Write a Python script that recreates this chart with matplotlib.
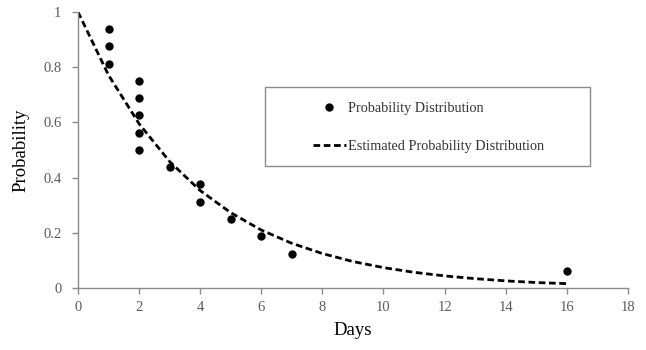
import matplotlib
matplotlib.use("Agg")
import matplotlib.pyplot as plt
from matplotlib.patches import Rectangle

plt.rcParams['font.family'] = ['Liberation Serif', 'DejaVu Serif']

# Observed probabilities by day
obs_days = [1, 1, 1, 2, 2, 2, 2, 2, 3, 4, 4, 5, 6, 7, 16]
obs_prob = [0.9375, 0.875, 0.8125, 0.75, 0.6875, 0.625, 0.5625, 0.5,
            0.4375, 0.375, 0.3125, 0.25, 0.1875, 0.125, 0.0625]

# Estimated distribution, read at each day
est_days = list(range(0, 17))
est_prob = [1.0, 0.771, 0.595, 0.458, 0.353, 0.273, 0.210, 0.162, 0.125,
            0.096, 0.074, 0.057, 0.044, 0.034, 0.026, 0.020, 0.016]

x_ticks = [0, 2, 4, 6, 8, 10, 12, 14, 16, 18]
y_ticks = [0, 0.2, 0.4, 0.6, 0.8, 1]
y_tick_labels = ["0", "0.2", "0.4", "0.6", "0.8", "1"]

fig = plt.figure(figsize=(6.46, 3.5), dpi=100)
ax = fig.add_axes([0.1207, 0.177, 0.8513, 0.789])

ax.plot(obs_days, obs_prob, 'o', color='black', markersize=5,
        label='Probability Distribution', zorder=3)
ax.plot(est_days, est_prob, '--', color='black', linewidth=2.0,
        dashes=(2.4, 1.3), label='Estimated Probability Distribution', zorder=2)

ax.set_xlim(0, 18)
ax.set_ylim(0, 1)
ax.set_xticks(x_ticks)
ax.set_yticks(y_ticks)
ax.set_yticklabels(y_tick_labels)

for side in ('top', 'right'):
    ax.spines[side].set_visible(False)
for side in ('left', 'bottom'):
    ax.spines[side].set_color('#8a8a8a')
    ax.spines[side].set_linewidth(1.0)

ax.tick_params(axis='both', direction='out', length=4, width=1.0,
               color='#8a8a8a', labelcolor='#5a5a5a', labelsize=10.5)
ax.tick_params(axis='x', pad=5)
ax.tick_params(axis='y', pad=8)

ax.set_xlabel('Days', fontsize=13.5, labelpad=6)
ax.set_ylabel('Probability', fontsize=13.5, labelpad=10)

# Legend frame drawn separately so the entries sit inset from its left edge
ax.add_patch(Rectangle((0.34, 0.442), 0.591, 0.286, transform=ax.transAxes,
                       facecolor='white', edgecolor='#8a8a8a', linewidth=1.0,
                       zorder=4))
leg = ax.legend(loc='center left', bbox_to_anchor=(0.427, 0.5815),
                fontsize=10.3, frameon=False, labelspacing=1.7, borderpad=0,
                handlelength=2.3, handletextpad=0.15, borderaxespad=0)
leg.set_zorder(5)
for t in leg.get_texts():
    t.set_color('#333333')

fig.savefig('out.png', dpi=100, facecolor='white')
